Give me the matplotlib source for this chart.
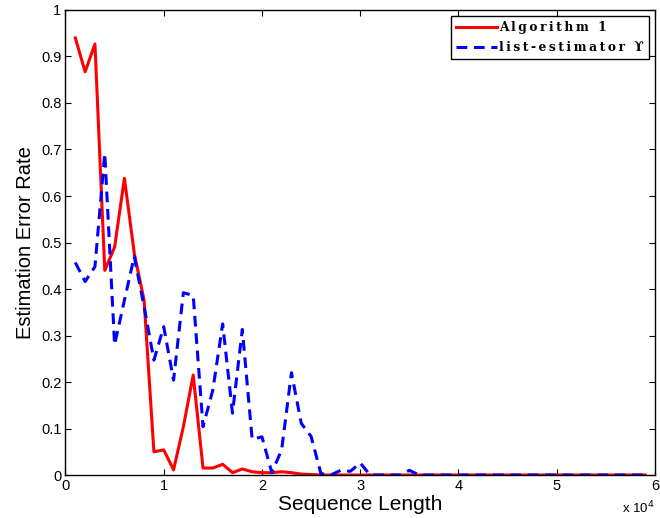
import numpy as np
import matplotlib
matplotlib.use("Agg")
import matplotlib.pyplot as plt
from matplotlib.ticker import FuncFormatter

# data (sequence length in steps of 1000)
seq_len = list(range(1000, 60000, 1000))

alg1 = [0.94, 0.867, 0.927, 0.44, 0.49, 0.638, 0.477, 0.376, 0.05, 0.054,
        0.011, 0.104, 0.215, 0.015, 0.015, 0.023, 0.005, 0.013, 0.007, 0.005,
        0.005, 0.007, 0.005, 0.002, 0.001, 0.0, 0.0, 0.0, 0.0, 0.0,
        0.0, 0.0, 0.0, 0.0, 0.0, 0.0, 0.0, 0.0, 0.0, 0.0,
        0.0, 0.0, 0.0, 0.0, 0.0, 0.0, 0.0, 0.0, 0.0, 0.0,
        0.0, 0.0, 0.0, 0.0, 0.0, 0.0, 0.0, 0.0, 0.0]

list_est = [0.457, 0.416, 0.448, 0.692, 0.28, 0.376, 0.47, 0.362, 0.247, 0.319,
            0.204, 0.392, 0.386, 0.104, 0.183, 0.325, 0.133, 0.313, 0.077, 0.082,
            0.005, 0.054, 0.22, 0.111, 0.083, 0.003, 0.0, 0.01, 0.008, 0.026,
            0.0, 0.0, 0.0, 0.0, 0.01, 0.0, 0.0, 0.0, 0.0, 0.0,
            0.0, 0.0, 0.0, 0.0, 0.0, 0.0, 0.0, 0.0, 0.0, 0.0,
            0.0, 0.0, 0.0, 0.0, 0.0, 0.0, 0.0, 0.0, 0.0]

labels = ['Algorithm 1', 'list-estimator \u03d2']


def spaced(s):
    # wide letter spacing like the original legend
    return '\u2009'.join(s)


plt.rcParams['font.family'] = ['Liberation Sans', 'DejaVu Sans']

fig = plt.figure(figsize=(6.6, 5.18), dpi=100)
ax = fig.add_axes([0.0992, 0.083, 0.8932, 0.8977])

ax.plot(seq_len, alg1, color='#ff0000', lw=2.2, label=spaced(labels[0]))
ax.plot(seq_len, list_est, color='#0000ff', lw=2.2, dashes=(3.5, 2.2),
        label=spaced(labels[1]))

ax.set_xlim(0, 60000)
ax.set_ylim(0, 1)
ax.set_xticks(np.arange(0, 60001, 10000))
ax.set_yticks(np.arange(0, 1.01, 0.1))
ax.xaxis.set_major_formatter(FuncFormatter(lambda v, p: '%g' % (v / 1e4)))
ax.yaxis.set_major_formatter(FuncFormatter(lambda v, p: '%g' % round(v, 1)))
ax.tick_params(direction='in', top=True, right=True, length=4, width=0.8,
               labelsize=10.5, pad=3)
for s in ax.spines.values():
    s.set_linewidth(1.0)

ax.set_xlabel('Sequence Length', fontsize=15, labelpad=1)
ax.set_ylabel('Estimation Error Rate', fontsize=14.5, labelpad=4)
ax.text(1.0, -0.07, 'x 10$^4$', transform=ax.transAxes, ha='right', va='center',
        fontsize=9.5)

leg = ax.legend(loc='upper right', prop={'family': 'DejaVu Serif', 'weight': 'bold', 'size': 8.8},
                fancybox=False, edgecolor='black', framealpha=1, borderaxespad=0.5,
                handlelength=3.4, handletextpad=0.15, borderpad=0.42, labelspacing=0.55)
leg.get_frame().set_linewidth(1.0)

fig.savefig('out.png', dpi=100)
